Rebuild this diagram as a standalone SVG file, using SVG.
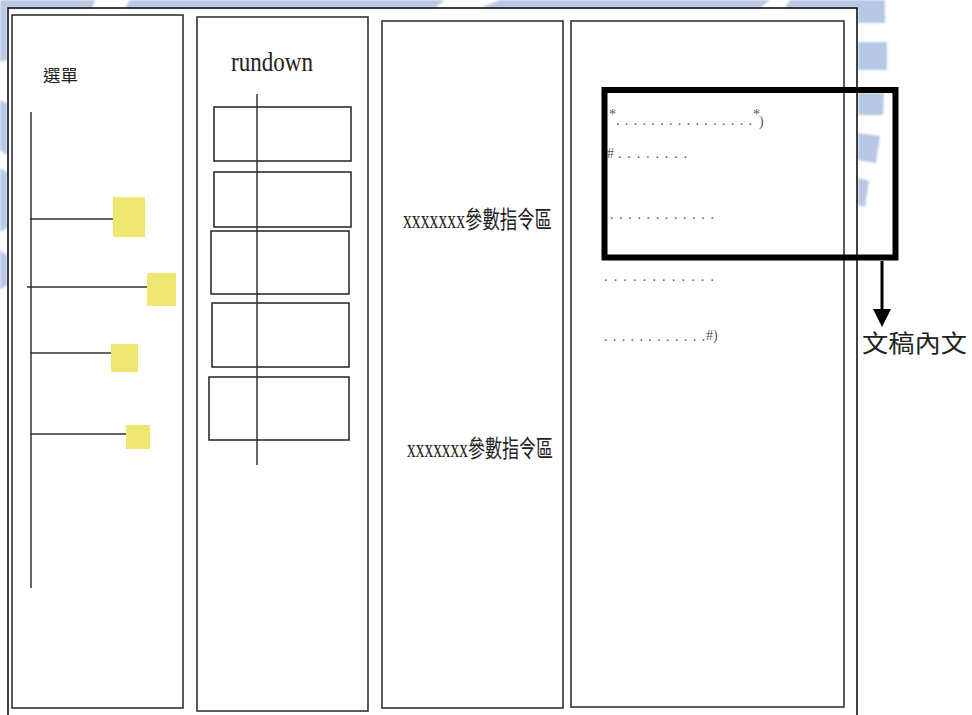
<svg xmlns="http://www.w3.org/2000/svg" width="972" height="715" viewBox="0 0 972 715">
<defs>
<style>
.wm{fill:#b9c7e6}
.frame{fill:none;stroke:#000;stroke-width:1.5}
.panel{fill:#fff;stroke:#333;stroke-width:1.6}
.box{fill:none;stroke:#222;stroke-width:1.5}
.ln{stroke:#333;stroke-width:1.5;fill:none}
.sq{fill:#eee873}
.cjk{font-family:"Noto Sans CJK TC","Noto Sans CJK SC",sans-serif;fill:#222}
.ser{font-family:"Liberation Serif",serif;fill:#222}
.dot{font-family:"Liberation Serif",serif;font-size:14px;fill:#555}
.thick{fill:none;stroke:#000;stroke-width:6}
.conn{stroke:#000;stroke-width:3;fill:none}
</style>
<filter id="soft" x="-5%" y="-5%" width="110%" height="110%">
<feGaussianBlur stdDeviation="1.2"/>
</filter>
<marker id="arr" viewBox="0 0 18 18" markerWidth="18" markerHeight="18" refX="9" refY="9" orient="auto" markerUnits="userSpaceOnUse">
<path d="M0,0 L18,9 L0,18 Z" fill="#000"/>
</marker>
</defs>
<rect width="972" height="715" fill="#fff"/>
<g id="watermark" filter="url(#soft)">
<polygon class="wm" points="0,0 95,0 92,8 0,8"/>
<polygon class="wm" points="130,0 445,0 435,8 125,8"/>
<polygon class="wm" points="500,0 770,0 760,8 480,8"/>
<polygon class="wm" points="790,0 885,0 885,23 858,23 858,8 785,8"/>
<polygon class="wm" points="858,42 887,42 887,70 858,70"/>
<polygon class="wm" points="858,93 884,93 883,115 858,115"/>
<polygon class="wm" points="858,133 880,136 876,163 858,160"/>
<polygon class="wm" points="858,178 869,181 865,207 858,205"/>
<polygon class="wm" points="0,8 7,8 7,60 0,62"/>
<polygon class="wm" points="0,100 7,103 7,155 0,150"/>
<polygon class="wm" points="0,168 7,172 7,228 0,232"/>
<polygon class="wm" points="0,250 7,255 7,285 0,290"/>
</g>
<rect id="outer-frame" class="frame" x="8" y="8" width="849" height="720"/>
<g id="menu-panel">
<rect class="panel" x="12" y="15" width="171" height="693"/>
<text class="cjk" x="43" y="82" font-size="17" textLength="35" lengthAdjust="spacingAndGlyphs">選單</text>
<line class="ln" x1="31" y1="112" x2="31" y2="588"/>
<line class="ln" x1="30" y1="219" x2="113" y2="219"/>
<rect class="sq" x="113" y="197" width="32" height="40"/>
<line class="ln" x1="27" y1="287" x2="147" y2="287"/>
<rect class="sq" x="147" y="273" width="29" height="33"/>
<line class="ln" x1="30" y1="353" x2="111" y2="353"/>
<rect class="sq" x="111" y="344" width="27" height="28"/>
<line class="ln" x1="30" y1="434" x2="126" y2="434"/>
<rect class="sq" x="126" y="425" width="24" height="24"/>
</g>
<g id="rundown-panel">
<rect class="panel" x="197" y="17" width="171" height="694"/>
<g transform="translate(0,71) scale(1,1.15)">
<text class="ser" x="231" y="0" font-size="24" textLength="82" lengthAdjust="spacingAndGlyphs">rundown</text>
</g>
<rect class="box" x="214" y="107" width="137" height="54"/>
<rect class="box" x="214" y="172" width="137" height="55"/>
<rect class="box" x="211" y="231" width="138" height="63"/>
<rect class="box" x="212" y="303" width="137" height="64"/>
<rect class="box" x="209" y="377" width="140" height="63"/>
<line class="ln" x1="257" y1="94" x2="257" y2="465"/>
</g>
<g id="param-panel">
<rect class="panel" x="382" y="21" width="181" height="687"/>
<g transform="translate(0,228) scale(1,1.35)">
<text x="403" y="0" font-size="18"><tspan class="ser" textLength="62" lengthAdjust="spacingAndGlyphs">xxxxxxx</tspan><tspan class="cjk" x="465" textLength="87" lengthAdjust="spacingAndGlyphs">參數指令區</tspan></text>
</g>
<g transform="translate(0,457) scale(1,1.35)">
<text x="407" y="0" font-size="18"><tspan class="ser" textLength="61" lengthAdjust="spacingAndGlyphs">xxxxxxx</tspan><tspan class="cjk" x="468" textLength="85" lengthAdjust="spacingAndGlyphs">參數指令區</tspan></text>
</g>
</g>
<g id="content-panel">
<rect class="panel" x="571" y="21" width="273" height="686"/>
<text class="dot" x="609" y="119" font-size="9">*</text>
<text class="dot" x="616" y="125" textLength="136" lengthAdjust="spacing">................</text>
<text class="dot" x="753" y="119" font-size="9">*</text>
<text class="dot" x="759" y="126" font-size="15">)</text>
<text class="dot" x="607" y="158" font-size="15">#</text>
<text class="dot" x="618" y="158" textLength="69" lengthAdjust="spacing">........</text>
<text class="dot" x="610" y="219" textLength="104" lengthAdjust="spacing">............</text>
<text class="dot" x="604" y="281" textLength="110" lengthAdjust="spacing">............</text>
<text class="dot" x="604" y="341" textLength="101" lengthAdjust="spacing">............</text>
<text class="dot" x="706" y="340" font-size="13">#)</text>
</g>
<g id="highlight">
<rect class="thick" x="604.5" y="90" width="291" height="167.5"/>
</g>
<g id="connectors">
<line class="conn" x1="882" y1="261" x2="882" y2="318" marker-end="url(#arr)"/>
</g>
<g id="label">
<text class="cjk" x="862" y="352" font-size="24" textLength="105" lengthAdjust="spacingAndGlyphs">文稿內文</text>
</g>
</svg>
